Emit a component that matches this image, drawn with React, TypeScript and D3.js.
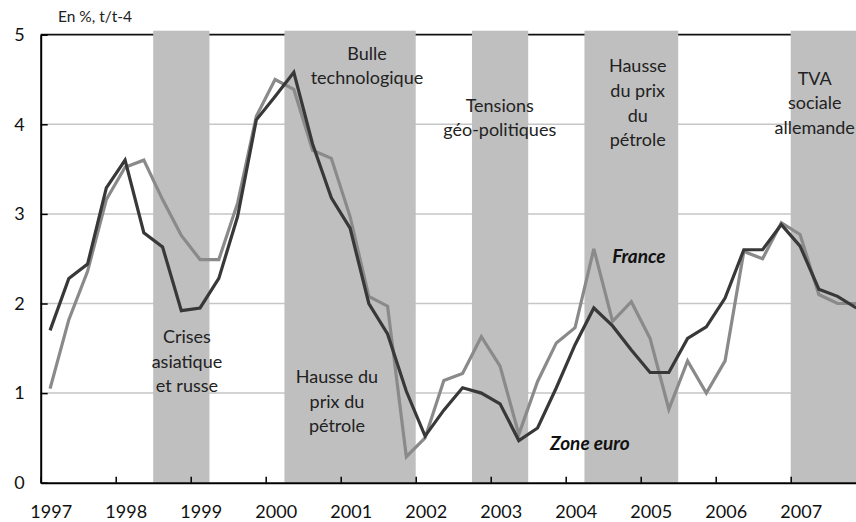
import { useEffect, useRef } from 'react';
import * as d3 from 'd3';

// quarterly growth, t/t-4, 1997Q1 .. 2007Q4
const quarters = d3.range(44).map(i => 1997 + (i + 0.5) / 4);

const zoneEuro = [
    1.70, 2.28, 2.44, 3.29,
    3.60, 2.79, 2.63, 1.92,
    1.95, 2.28, 2.97, 4.05,
    4.31, 4.58, 3.78, 3.18,
    2.84, 2.00, 1.66, 1.02,
    0.52, 0.81, 1.06, 1.00,
    0.88, 0.47, 0.61, 1.06,
    1.54, 1.95, 1.75, 1.48,
    1.23, 1.23, 1.61, 1.74,
    2.06, 2.60, 2.60, 2.88,
    2.64, 2.16, 2.08, 1.95
];

const france = [
    1.05, 1.82, 2.36, 3.16,
    3.52, 3.60, 3.16, 2.76,
    2.49, 2.49, 3.12, 4.09,
    4.50, 4.39, 3.71, 3.62,
    2.97, 2.08, 1.97, 0.29,
    0.50, 1.14, 1.22, 1.63,
    1.30, 0.54, 1.13, 1.56,
    1.73, 2.61, 1.80, 2.02,
    1.61, 0.82, 1.36, 1.00,
    1.36, 2.58, 2.50, 2.90,
    2.77, 2.10, 2.00, 2.00
];

const yearTicks = d3.range(1997, 2008);
const valueTicks = [0, 1, 2, 3, 4, 5];

const bandStarts = [1998.5, 2000.25, 2002.75, 2004.25, 2007.0];
const bandEnds = [1999.25, 2002.0, 2003.5, 2005.5, 2008.2];

// event labels: centre (year), first baseline (value), lines
const eventX = [2001.35, 2003.12, 2004.96, 2007.32, 1998.95, 2000.95];
const eventY = [4.72, 4.14, 4.58, 4.44, 1.56, 1.11];
const eventLines = [
    ['Bulle', 'technologique'],
    ['Tensions', 'géo-politiques'],
    ['Hausse', 'du prix', 'du', 'pétrole'],
    ['TVA', 'sociale', 'allemande'],
    ['Crises', 'asiatique', 'et russe'],
    ['Hausse du', 'prix du', 'pétrole']
];

const W = 856, H = 522;
const font = 'Lato, "Open Sans", sans-serif';

export default function App() {
    const ref = useRef<SVGSVGElement>(null);

    useEffect(() => {
        const svg = d3.select(ref.current);
        svg.selectAll('*').remove();

        const x = d3.scaleLinear().domain([1997, 2008]).range([40.7, 865.7]);
        const y = d3.scaleLinear().domain([0, 5]).range([482.7, 34.7]);

        // grid
        svg.append('g').selectAll('line')
            .data(valueTicks.filter(v => v > 0 && v < 5))
            .enter().append('line')
            .attr('x1', x(1997)).attr('x2', W)
            .attr('y1', d => y(d)).attr('y2', d => y(d))
            .attr('stroke', '#c6c6c6').attr('stroke-width', 1.5);

        // top frame line
        svg.append('line')
            .attr('x1', x(1997)).attr('x2', W)
            .attr('y1', y(5)).attr('y2', y(5))
            .attr('stroke', '#111').attr('stroke-width', 1.8);

        // shaded periods
        svg.append('g').selectAll('rect')
            .data(bandStarts.map((s, i) => [s, bandEnds[i]]))
            .enter().append('rect')
            .attr('x', d => x(d[0]))
            .attr('width', d => x(d[1]) - x(d[0]))
            .attr('y', y(5) - 4)
            .attr('height', y(0) - y(5) + 4)
            .attr('fill', '#bfbfbf');

        const line = d3.line<number>()
            .x((_, i) => x(quarters[i]))
            .y(d => y(d));

        svg.append('path').datum(france)
            .attr('d', line).attr('fill', 'none')
            .attr('stroke', '#8a8a8a').attr('stroke-width', 3.2)
            .attr('stroke-linejoin', 'miter');
        svg.append('path').datum(zoneEuro)
            .attr('d', line).attr('fill', 'none')
            .attr('stroke', '#383838').attr('stroke-width', 3.2)
            .attr('stroke-linejoin', 'miter');

        // axes
        const xAxis = svg.append('g')
            .attr('transform', `translate(0,${y(0)})`)
            .call(d3.axisBottom(x).tickValues(yearTicks).tickFormat(d3.format('d'))
                .tickSizeInner(-6).tickSizeOuter(0).tickPadding(23));
        xAxis.select('.domain').attr('stroke', '#000').attr('stroke-width', 2);
        xAxis.selectAll('.tick line').attr('stroke', '#000').attr('stroke-width', 1.5);
        xAxis.selectAll('.tick text')
            .attr('dx', 10)
            .style('font-family', font).style('font-size', '18px').attr('fill', '#111');

        const yAxis = svg.append('g')
            .attr('transform', `translate(${x(1997)},0)`)
            .call(d3.axisLeft(y).tickValues(valueTicks).tickFormat(d3.format('d'))
                .tickSizeInner(-7).tickSizeOuter(0).tickPadding(16));
        yAxis.select('.domain').attr('stroke', '#000').attr('stroke-width', 2);
        yAxis.selectAll('.tick line').attr('stroke', '#000').attr('stroke-width', 1.5);
        yAxis.selectAll('.tick text')
            .style('font-family', font).style('font-size', '18px').attr('fill', '#111');

        svg.append('text')
            .attr('x', 58).attr('y', 22)
            .style('font-family', font).style('font-size', '15.5px')
            .attr('fill', '#222')
            .text('En %, t/t-4');

        // event labels
        eventLines.forEach((lines, k) => {
            const t = svg.append('text')
                .attr('text-anchor', 'middle')
                .style('font-family', font).style('font-size', '18px')
                .attr('fill', '#222');
            lines.forEach((s, j) => {
                t.append('tspan')
                    .attr('x', x(eventX[k]))
                    .attr('y', y(eventY[k]) + j * 24.6)
                    .text(s);
            });
        });

        // series labels
        svg.append('text')
            .attr('x', x(2004.62)).attr('y', y(2.45))
            .style('font-family', font).style('font-size', '19px')
            .style('font-weight', 'bold').style('font-style', 'italic')
            .attr('fill', '#111')
            .text('France');
        svg.append('text')
            .attr('x', x(2003.79)).attr('y', y(0.367))
            .style('font-family', font).style('font-size', '19px')
            .style('font-weight', 'bold').style('font-style', 'italic')
            .attr('fill', '#111')
            .text('Zone euro');
    }, []);

    return (
        <svg ref={ref} width={W} height={H}
            style={{ position: 'absolute', left: 0, top: 0, background: '#fff' }} />
    );
}
